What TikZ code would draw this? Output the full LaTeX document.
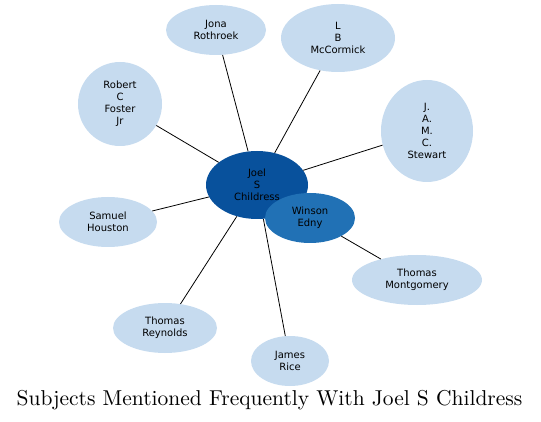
\documentclass[tikz,border=0pt]{standalone}
\usepackage{fontspec}
\newfontfamily\nodefont{DejaVu Sans}
\newfontfamily\titlefont{lmroman10-regular}[Extension=.otf]
\usetikzlibrary{shapes.geometric}
\definecolor{lightnode}{HTML}{C6DBEF}
\definecolor{mainnode}{HTML}{08519C}
\definecolor{midnode}{HTML}{2171B5}
\tikzset{
  subj/.style={ellipse, fill=lightnode, inner sep=0pt, align=center,
    font=\nodefont\fontsize{10}{12}\selectfont},
  edge/.style={draw=black, line width=0.8pt}
}
\begin{document}
\begin{tikzpicture}[x=1pt,y=-1pt]
\useasboundingbox (0,0) rectangle (541,422);
\node[subj, fill=mainnode, minimum width=102pt, minimum height=68pt] (joel) at (257,185) {Joel\\S\\Childress};
\node[subj, fill=midnode, minimum width=90pt, minimum height=50pt] (winson) at (310,218) {Winson\\Edny};
\node[subj, minimum width=100pt, minimum height=50pt] (jona) at (216,30) {Jona\\Rothroek};
\node[subj, minimum width=114pt, minimum height=68pt] (lb) at (338,38) {L\\B\\McCormick};
\node[subj, minimum width=84pt, minimum height=84pt] (robert) at (120,104) {Robert\\C\\Foster\\Jr};
\node[subj, minimum width=92pt, minimum height=102pt] (stewart) at (427,131) {J.\\A.\\M.\\C.\\Stewart};
\node[subj, minimum width=98pt, minimum height=50pt] (samuel) at (108,222) {Samuel\\Houston};
\node[subj, minimum width=130pt, minimum height=50pt] (montgomery) at (417,280) {Thomas\\Montgomery};
\node[subj, minimum width=104pt, minimum height=50pt] (reynolds) at (165,328) {Thomas\\Reynolds};
\node[subj, minimum width=78pt, minimum height=50pt] (rice) at (290,361) {James\\Rice};
\node[font=\titlefont\fontsize{21.5}{24}\selectfont, inner sep=0pt] (title) at (269.5,400) {Subjects Mentioned Frequently With Joel S Childress};
\draw[edge] (joel) -- (jona);
\draw[edge] (joel) -- (lb);
\draw[edge] (joel) -- (robert);
\draw[edge] (joel) -- (stewart);
\draw[edge] (joel) -- (samuel);
\draw[edge] (joel) -- (reynolds);
\draw[edge] (joel) -- (rice);
\draw[edge] (winson) -- (montgomery);
\end{tikzpicture}
\end{document}
